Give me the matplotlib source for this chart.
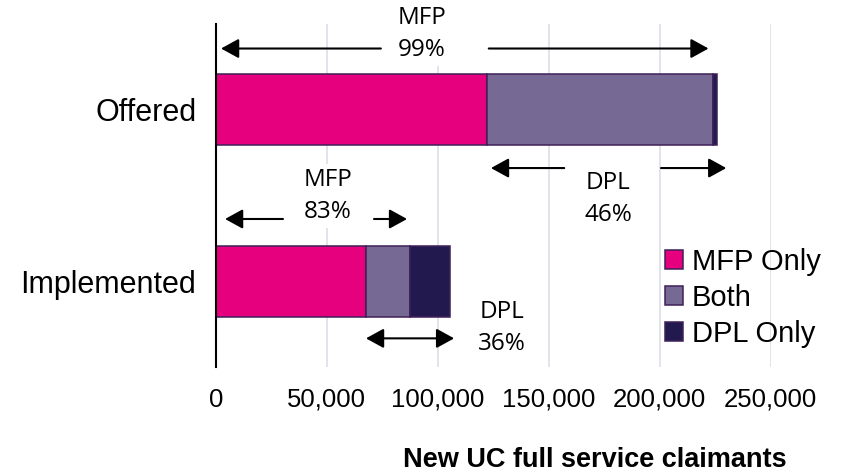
import numpy as np
import matplotlib
matplotlib.use("Agg")
import matplotlib.pyplot as plt

# claimant counts per category (bottom to top)
categories = ["Implemented", "Offered"]
mfp_only = np.array([67700, 122000])
both = np.array([19800, 102000])
dpl_only = np.array([18000, 2000])

series_names = ["MFP Only", "Both", "DPL Only"]
colors = ["#E6007E", "#766A94", "#221A4F"]
edge = "#3E2059"
x_ticks = [0, 50000, 100000, 150000, 200000, 250000]

totals = mfp_only + both + dpl_only
mfp_pct = (mfp_only + both) / totals * 100
dpl_pct = (both + dpl_only) / totals * 100

fig = plt.figure(figsize=(8.48, 4.76), dpi=100)
ax = fig.add_axes([0.2544, 0.229, 0.6544, 0.7206])

ypos = np.arange(len(categories))
left = np.zeros(len(categories))
for name, vals, color in zip(series_names, [mfp_only, both, dpl_only], colors):
    ax.barh(ypos, vals, left=left, height=0.415, color=color, edgecolor=edge,
            linewidth=1.1, label=name, zorder=2)
    left += vals

ax.set_xlim(0, 250000)
ax.set_ylim(-0.5, 1.5)
ax.set_xticks(x_ticks)
ax.set_xticklabels([f"{t:,}" for t in x_ticks], fontsize=18.5, family="Liberation Sans")
ax.set_yticks(ypos)
ax.set_yticklabels(categories, fontsize=22, family="Liberation Sans")
ax.tick_params(axis="both", length=0)
ax.tick_params(axis="x", pad=15)
ax.tick_params(axis="y", pad=14)
ax.grid(axis="x", color="#DADDE7", linewidth=1.1, zorder=0)
ax.set_axisbelow(True)
for side in ["top", "right", "bottom"]:
    ax.spines[side].set_visible(False)
ax.spines["left"].set_linewidth(1.5)
ax.spines["left"].set_color("black")

# span arrows with labels
arrow = dict(arrowstyle="-|>,head_length=0.4,head_width=0.22", color="black",
             lw=1.5, mutation_scale=27, shrinkA=0, shrinkB=0)


def split_arrow(x0, x1, gap0, gap1, y):
    ax.annotate("", xy=(x0, y), xytext=(gap0, y), arrowprops=arrow,
                annotation_clip=False, zorder=5)
    ax.annotate("", xy=(x1, y), xytext=(gap1, y), arrowprops=arrow,
                annotation_clip=False, zorder=5)


def span_label(x, y, text):
    ax.text(x, y, text, ha="center", va="center", fontsize=17.5, family="Open Sans",
            linespacing=1.45, zorder=4, clip_on=False,
            bbox=dict(facecolor="white", edgecolor="none", pad=3))


off, imp = 1, 0
off_mfp_end = mfp_only[off] + both[off]
imp_mfp_end = mfp_only[imp] + both[imp]

split_arrow(2400, off_mfp_end - 2000, 74400, 123000, 1.357)
span_label(93000, 1.44, f"MFP\n{mfp_pct[off]:.0f}%")

split_arrow(mfp_only[off] + 2000, totals[off] + 4000, 157000, 200600, 0.66)
span_label(176700, 0.48, f"DPL\n{dpl_pct[off]:.0f}%")

split_arrow(4200, imp_mfp_end - 1300, 30300, 71300, 0.363)
span_label(50500, 0.497, f"MFP\n{mfp_pct[imp]:.0f}%")

ax.annotate("", xy=(totals[imp] + 1900, -0.333), xytext=(mfp_only[imp], -0.333),
            arrowprops=dict(arrow, arrowstyle="<|-|>,head_length=0.4,head_width=0.22"),
            annotation_clip=False, zorder=5)
span_label(129000, -0.275, f"DPL\n{dpl_pct[imp]:.0f}%")

ax.legend(loc="center left", bbox_to_anchor=(665 / 848, 1 - 298 / 476),
          bbox_transform=fig.transFigure, frameon=False, borderpad=0,
          borderaxespad=0, handlelength=0.62, handleheight=0.62,
          handletextpad=0.3, labelspacing=0.27,
          prop={"family": "Liberation Sans", "size": 21})

fig.text(595 / 848, 9 / 476, "New UC full service claimants", ha="center",
         va="baseline", fontsize=19.5, fontweight="bold", family="Liberation Sans")

fig.savefig("out.png", dpi=100)
